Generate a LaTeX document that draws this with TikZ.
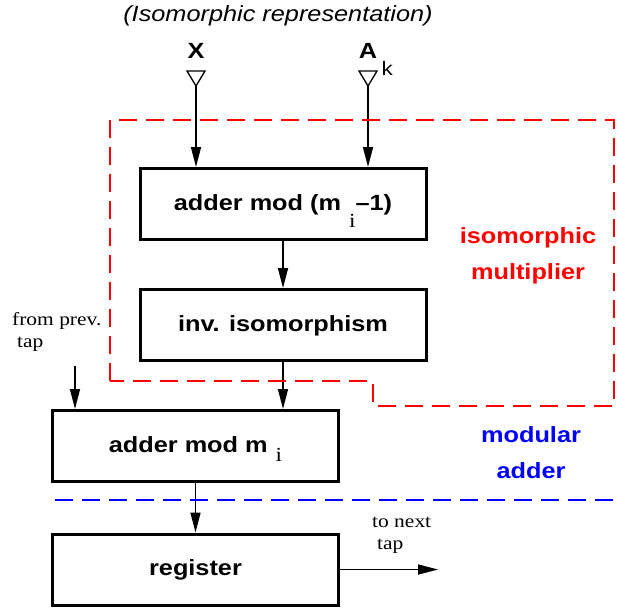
\documentclass[tikz,border=0pt]{standalone}
\usepackage{fontspec}
\setmainfont{Liberation Sans}[FakeStretch=1.15]
\newfontfamily\tapfont{Liberation Serif}[FakeStretch=1.16]
\usetikzlibrary{arrows.meta}
\usetikzlibrary{calc}

% lowered serif index after m
\newcommand{\modidx}[1]{\hspace{8pt}\raisebox{-#1}{\tapfont\mdseries\fontsize{20}{20}\selectfont i}}

\begin{document}
\begin{tikzpicture}[x=1pt, y=-1pt, >={Triangle[length=20pt, width=10pt]},
  block/.style={draw, line width=3pt, minimum width=286pt, minimum height=71pt,
    inner sep=0pt, text height=15pt, text depth=3pt,
    font=\bfseries\fontsize{22}{26}\selectfont},
  flow/.style={->, line width=1.5pt},
  lbl/.style={inner sep=0pt, font=\bfseries\fontsize{22}{36}\selectfont, align=center},
  taptxt/.style={inner sep=0pt, align=left, font=\tapfont\fontsize{18.5}{22}\selectfont},
  zone/.style={dash pattern=on 18pt off 9pt, line width=1.5pt}]

  \useasboundingbox (0,0) rectangle (617,613);

  % ===== Title and inputs =====
  \node[inner sep=0pt, anchor=base, font=\itshape\fontsize{22}{26}\selectfont]
    (title) at (278,21) {(Isomorphic representation)};

  \node[lbl, anchor=base] (X) at (196,58) {X};
  \node[lbl, anchor=base] (A) at (368,58)
    {A\rlap{\hspace{4.5pt}\raisebox{-17pt}{\mdseries\fontsize{19.5}{20}\selectfont k}}};

  \coordinate (inX) at (196,86);
  \coordinate (inA) at (368,86);

  % open input triangles
  \draw[line width=1.3pt] (187,71) -- (205,71) -- (inX) -- cycle;
  \draw[line width=1.3pt] (359,71) -- (377,71) -- (inA) -- cycle;

  % ===== Blocks =====
  \node[block] (mul) at (283,204) {adder mod (m\modidx{17pt}--1)};
  \node[block] (inv) at (283,325) {inv. isomorphism};
  \node[block] (add) at (195.5,446) {adder mod m\modidx{9pt}};
  \node[block] (reg) at (195.5,569.5) {register};

  % ===== Connections =====
  \draw[flow] (inX) -- (inX |- mul.north);
  \draw[flow] (inA) -- (inA |- mul.north);
  \draw[flow] (mul) -- (inv);
  \draw[flow] (inv.south) -- (inv.south |- add.north);

  \coordinate (prev) at (75,366);
  \draw[flow] (prev) -- (prev |- add.north);
  \node[taptxt, anchor=north west] (prevtxt) at (12,312) {from prev.\\\hspace{5pt}tap};

  \draw[flow] (add) -- (reg);

  \coordinate (next) at (438,569.5);
  \draw[flow] (reg.east) -- (next);
  \node[taptxt, anchor=north west] (nexttxt) at (372,517) {to next\\\hspace{5pt}tap};

  % ===== Dashed regions =====
  \draw[zone, red] (110,381) -- (110,120) -- (614,120) -- (614,406)
    -- (373,406) -- (373,381) -- cycle;
  \node[lbl, red] (isolbl) at (528,255.6) {isomorphic\\multiplier};

  \draw[zone, blue] (55,500) -- (617,500);
  \node[lbl, blue] (modlbl) at (531,453) {modular\\adder};

\end{tikzpicture}
\end{document}
